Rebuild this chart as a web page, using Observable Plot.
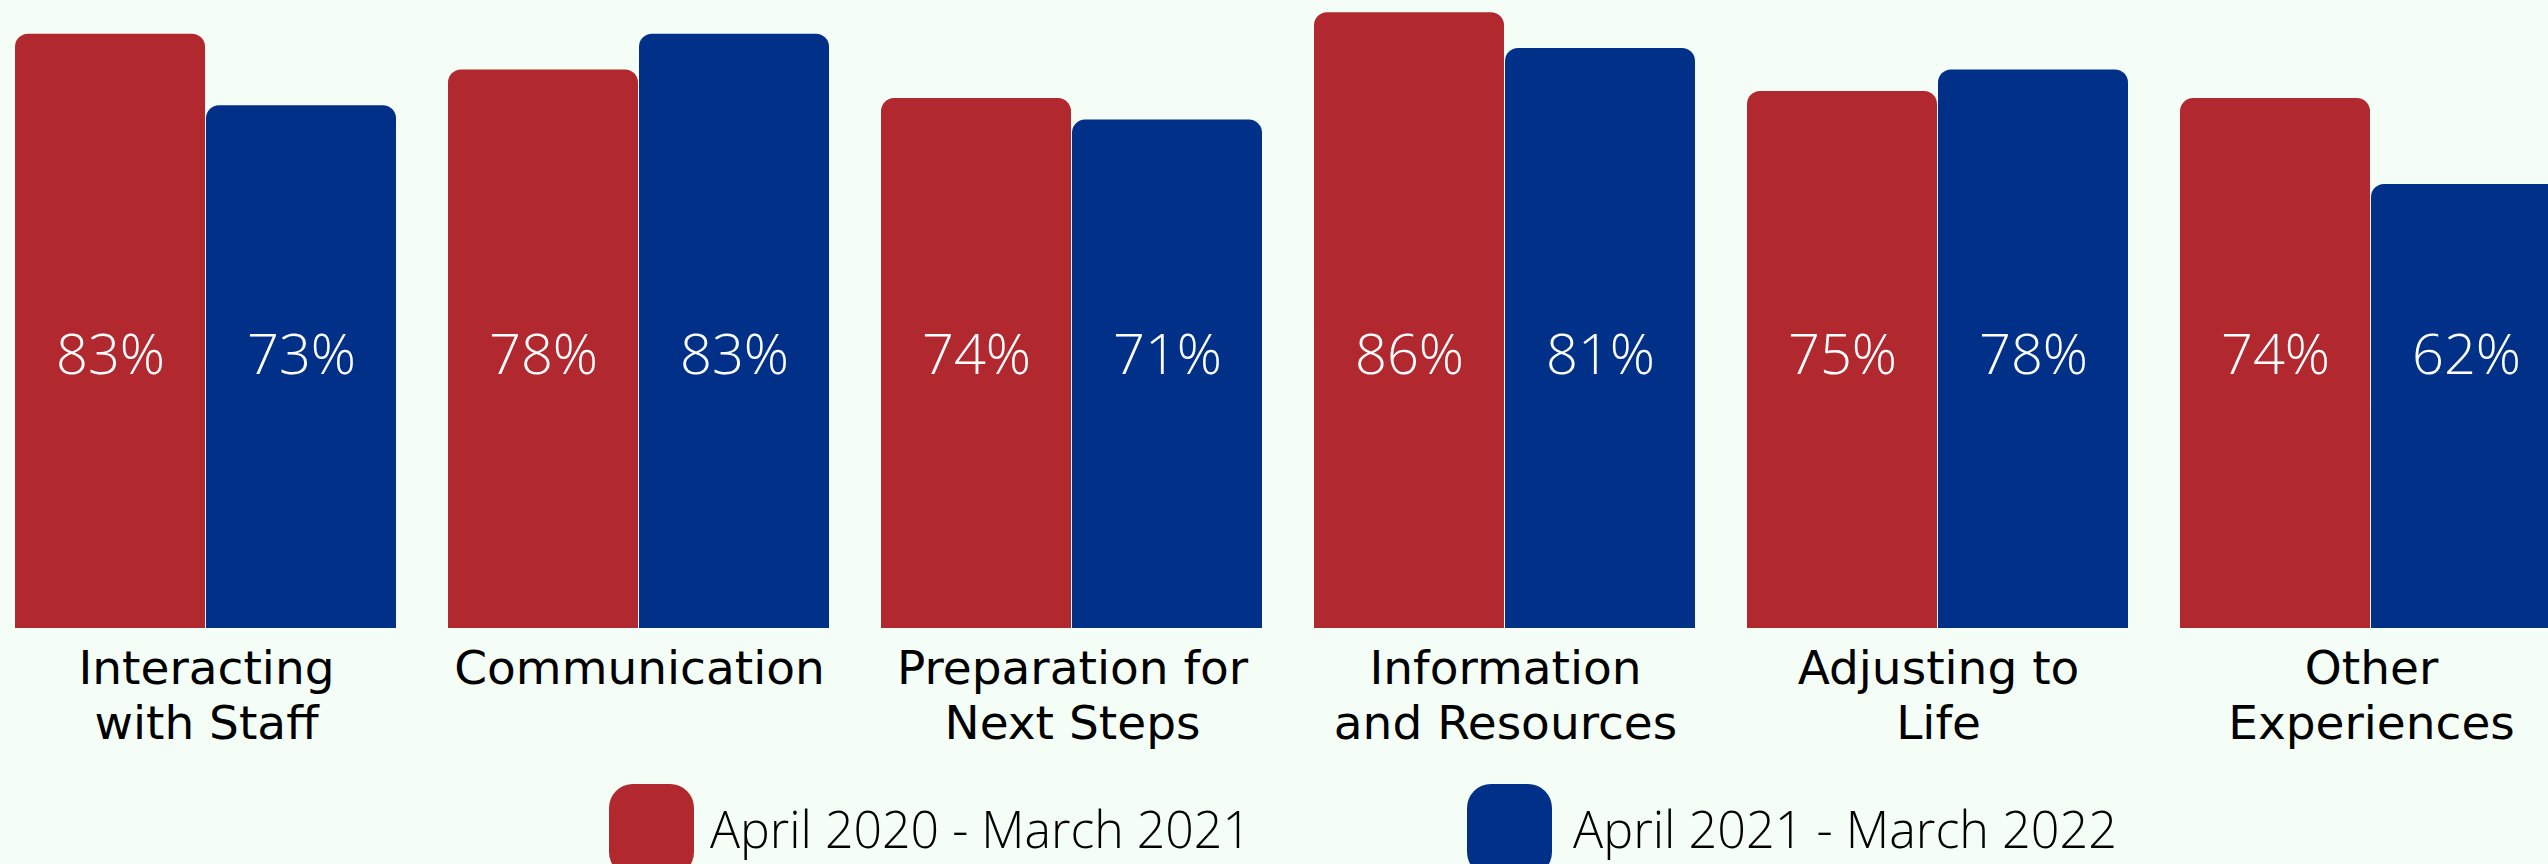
<!DOCTYPE html>
<html>
<head>
<meta charset="utf-8">
<script src="https://cdn.jsdelivr.net/npm/d3@7"></script>
<script src="https://cdn.jsdelivr.net/npm/@observablehq/plot@0.6"></script>
<style>
  html, body { margin: 0; padding: 0; background: #f4fef7; overflow: hidden; width: 2548px; height: 864px; }
  #chart svg { display: block; }
  #legend { position: relative; height: 94px; width: 2548px; }
  #legend .sw { position: absolute; top: 14px; width: 85px; height: 92px; border-radius: 24px; }
  #legend .lab { position: absolute; top: 32px; font-family: "Open Sans", sans-serif; font-weight: 300; font-size: 52px; line-height: 52px; color: #000; white-space: nowrap; transform-origin: left center; }
</style>
</head>
<body>
<div id="chart"></div>
<div id="legend"></div>
<script>
const categories = ["Interacting\nwith Staff", "Communication", "Preparation for\nNext Steps", "Information\nand Resources", "Adjusting to\nLife", "Other\nExperiences"];
const series = ["April 2020 - March 2021", "April 2021 - March 2022"];
const values2020 = [83, 78, 74, 86, 75, 74];
const values2021 = [73, 83, 71, 81, 78, 62];
const colors = ["#b2282f", "#003087"];

const data = categories.flatMap((c, i) => [
  {cat: c, series: series[0], value: values2020[i]},
  {cat: c, series: series[1], value: values2021[i]}
]);

const chart = Plot.plot({
  width: 2565,
  height: 770,
  marginTop: 0,
  marginLeft: 13,
  marginRight: 0,
  marginBottom: 142,
  style: {background: "transparent", maxWidth: "none", overflow: "visible"},
  fx: {domain: categories, paddingInner: 0.1175, paddingOuter: 0, axis: null, label: null},
  x: {domain: series, paddingInner: 0.005, paddingOuter: 0, axis: null, label: null},
  y: {domain: [0, 87.7], axis: null, label: null},
  color: {domain: series, range: colors},
  marks: [
    Plot.barY(data, {fx: "cat", x: "series", y: "value", fill: "series", rx: 13}),
    Plot.barY(data, {fx: "cat", x: "series", y1: 0, y2: d => d.value / 2, fill: "series"}),
    Plot.text(data, {fx: "cat", x: "series", text: d => d.value + "%", frameAnchor: "bottom", lineAnchor: "middle", dy: -272,
      fill: "white", fontSize: 56, fontWeight: 300, fontFamily: "Open Sans"}),
    Plot.text(categories, {fx: d => d, text: d => d, frameAnchor: "bottom", lineAnchor: "top", dy: 16,
      fontSize: 47, lineHeight: 1.17, fill: "black", fontFamily: "DejaVu Sans"})
  ]
});
document.getElementById("chart").appendChild(chart);

const legend = document.getElementById("legend");
const swLeft = [609, 1467];
const labLeft = [710, 1573];
const labWidth = [541, 544];
series.forEach((s, i) => {
  const sw = document.createElement("div");
  sw.className = "sw";
  sw.style.left = swLeft[i] + "px";
  sw.style.background = colors[i];
  legend.appendChild(sw);
  const lab = document.createElement("span");
  lab.className = "lab";
  lab.style.left = labLeft[i] + "px";
  lab.textContent = s;
  legend.appendChild(lab);
  const w = lab.getBoundingClientRect().width;
  if (w > 0) lab.style.transform = `scaleX(${labWidth[i] / w})`;
});
</script>
</body>
</html>
